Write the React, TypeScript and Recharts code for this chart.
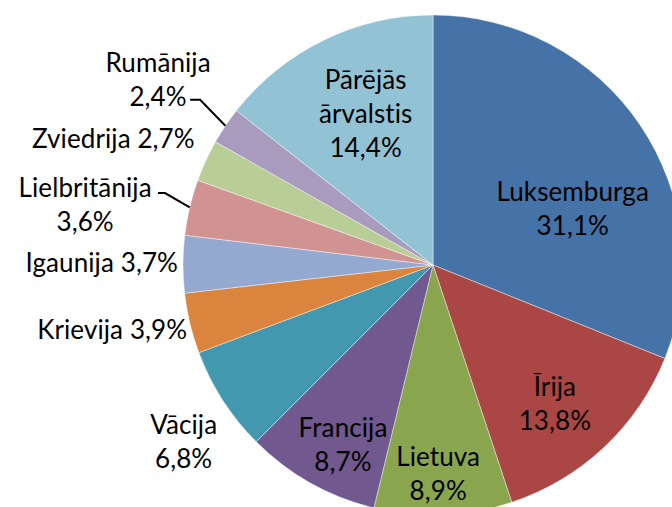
import React from "react";
import { PieChart, Pie, Cell } from "recharts";

const countries = [
  "Luksemburga",
  "Īrija",
  "Lietuva",
  "Francija",
  "Vācija",
  "Krievija",
  "Igaunija",
  "Lielbritānija",
  "Zviedrija",
  "Rumānija",
  "Pārējās ārvalstis",
];
const shares = [31.1, 13.8, 8.9, 8.7, 6.8, 3.9, 3.7, 3.6, 2.7, 2.4, 14.4];
const COLORS = [
  "#4572A7",
  "#AA4643",
  "#89A54E",
  "#71588F",
  "#4198AF",
  "#DB843D",
  "#93A9CF",
  "#D19392",
  "#B9CD96",
  "#A99BBD",
  "#92C3D4",
];

const data = countries.map((name, i) => ({ name, value: shares[i] }));

// label placement: rf = radius factor, da = angle shift (deg, clockwise)
type Place = {
  rf: number;
  da: number;
  inline?: boolean;
  leader?: { rf: number; da: number; tail: number };
};
const PLACES: Place[] = [
  { rf: 0.604, da: 11.8 },
  { rf: 0.736, da: 1.7 },
  { rf: 0.832, da: 0.9 },
  { rf: 0.8, da: -2.6 },
  { rf: 1.22, da: -2.4 },
  { rf: 1.016, da: -1.1, inline: true },
  { rf: 1.02, da: 0.5, inline: true },
  { rf: 1.413, da: -3.3, leader: { rf: 1.11, da: 1.7, tail: 7 } },
  { rf: 1.08, da: 3.4, inline: true },
  { rf: 1.327, da: 0.2, leader: { rf: 1.142, da: 1.5, tail: 10 } },
  { rf: 0.664, da: 2 },
];

const FONT = "Lato, 'Open Sans', sans-serif";
const LINE_H = 34;

const pt = (cx: number, cy: number, r: number, clockDeg: number) => {
  const a = (clockDeg * Math.PI) / 180;
  return { x: cx + r * Math.sin(a), y: cy - r * Math.cos(a) };
};

const fmt = (v: number) => v.toFixed(1).replace(".", ",") + "%";

const renderLabel = (props: any) => {
  const { cx, cy, midAngle, outerRadius, index } = props;
  const place = PLACES[index];
  const clock = 90 - midAngle;
  const pos = pt(cx, cy, outerRadius * place.rf, clock + place.da);
  const pct = fmt(shares[index]);
  const textStyle = { fontFamily: FONT, fontSize: 26, fill: "#000", letterSpacing: 0.1 };

  if (place.inline) {
    return (
      <text
        key={`l-${index}`}
        x={pos.x}
        y={pos.y}
        textAnchor="end"
        dominantBaseline="central"
        style={textStyle}
      >
        {countries[index] + " " + pct}
      </text>
    );
  }

  const lines = [...countries[index].split(" "), pct];
  const top = pos.y - ((lines.length - 1) * LINE_H) / 2;
  let leader = null;
  if (place.leader) {
    const start = pt(cx, cy, outerRadius, clock);
    const elbow = pt(cx, cy, outerRadius * place.leader.rf, clock + place.leader.da);
    leader = (
      <polyline
        points={`${start.x},${start.y} ${elbow.x},${elbow.y} ${elbow.x - place.leader.tail},${elbow.y}`}
        fill="none"
        stroke="#000"
        strokeWidth={2}
      />
    );
  }
  return (
    <g key={`l-${index}`}>
      {leader}
      {lines.map((ln, i) => (
        <text
          key={i}
          x={pos.x}
          y={top + i * LINE_H}
          textAnchor="middle"
          dominantBaseline="central"
          style={textStyle}
        >
          {ln}
        </text>
      ))}
    </g>
  );
};

export default function App() {
  return (
    <div
      style={{
        position: "absolute",
        left: 0,
        top: 0,
        width: 672,
        height: 507,
        overflow: "hidden",
        background: "#fff",
      }}
    >
      <PieChart width={672} height={507} margin={{ top: 0, right: 0, bottom: 0, left: 0 }}>
        <Pie
          data={data}
          dataKey="value"
          nameKey="name"
          cx={433}
          cy={265}
          outerRadius={250}
          startAngle={90}
          endAngle={-270}
          stroke="#fff"
          strokeOpacity={0.7}
          strokeWidth={0.6}
          label={renderLabel}
          labelLine={false}
          isAnimationActive={false}
        >
          {data.map((_, i) => (
            <Cell key={`c-${i}`} fill={COLORS[i]} />
          ))}
        </Pie>
      </PieChart>
    </div>
  );
}
